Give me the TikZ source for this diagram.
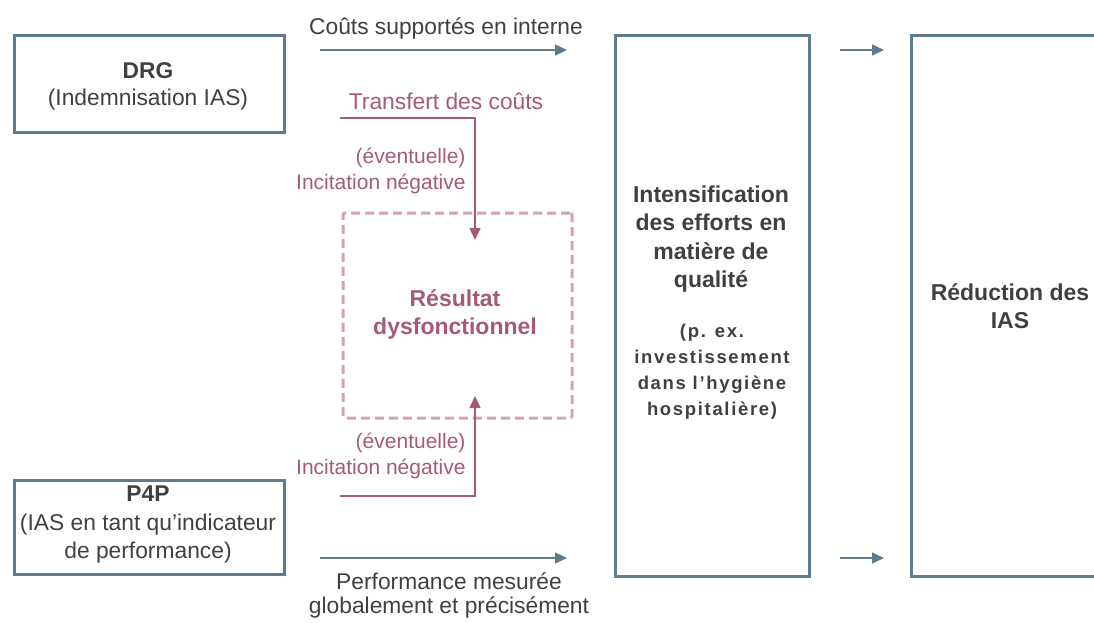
\documentclass[tikz,border=0pt]{standalone}
\usepackage{fontspec}
\setmainfont{Liberation Sans}
\usetikzlibrary{arrows.meta}
\definecolor{slate}{HTML}{5F7B8E}
\definecolor{wine}{HTML}{A65A79}
\definecolor{rose}{HTML}{D3A3B4}
\definecolor{ink}{HTML}{404040}
\tikzset{
  box/.style={draw=slate, line width=3pt, anchor=north west, inner sep=0pt},
  big/.style={font=\fontsize{22.8}{27}\selectfont, text=ink, align=center},
  heavy/.style={font=\bfseries\fontsize{23}{28.5}\selectfont, text=ink, align=center},
  small/.style={font=\bfseries\fontsize{18.5}{26}\selectfont\addfontfeature{LetterSpace=9}, text=ink, align=center},
  flow/.style={draw=slate, line width=1.5pt, -{Triangle[length=12pt,width=11pt]}},
  neg/.style={draw=wine, line width=1.5pt, -{Triangle[length=12pt,width=11pt]}},
  negtext/.style={font=\fontsize{21}{26}\selectfont, text=wine, align=right},
}
\begin{document}
\begin{tikzpicture}[x=1pt,y=-1pt]
\useasboundingbox (0,0) rectangle (1094,622);
\clip (0,0) rectangle (1094,622);

% financing instruments
\node[box, minimum width=270pt, minimum height=97pt] (drg) at (13,34) {};
\node[big] at (148,86) {\textbf{DRG}\\(Indemnisation IAS)};
\node[box, minimum width=270pt, minimum height=94pt] (p4p) at (13,479) {};
\node[big, font=\fontsize{22.8}{28.5}\selectfont] at (148,525) {\textbf{P4P}\\(IAS en tant qu’indicateur\\de performance)};

% quality efforts and outcome
\node[box, minimum width=194pt, minimum height=541pt] (eff) at (614,34) {};
\node[heavy] at (711,239) {Intensification\\des efforts en\\matière de\\qualité};
\node[small] at (712,372) {(p. ex.\\investissement\\dans l’hygiène\\hospitalière)};
\node[box, minimum width=250pt, minimum height=541pt] (red) at (910,34) {};
\node[heavy, font=\bfseries\fontsize{23}{28}\selectfont] at (1010,306) {Réduction des\\IAS};

% dysfunctional outcome
\node[draw=rose, line width=3pt, dash pattern=on 9pt off 5pt, rounded corners=2pt,
      minimum width=229pt, minimum height=205pt, anchor=north west] (dys) at (341.5,211.5) {};
\node[heavy, text=wine, font=\bfseries\fontsize{23}{28}\selectfont] at (455,314) {Résultat\\dysfonctionnel};

% main flows
\coordinate (a1) at (320,50);
\coordinate (a2) at (567,50);
\draw[flow] (a1) -- (a2);
\node[big] at (446,28) {Coûts supportés en interne};
\coordinate (b1) at (320,558);
\coordinate (b2) at (567,558);
\draw[flow] (b1) -- (b2);
\node[big, font=\fontsize{22.8}{24}\selectfont] at (449,595) {Performance mesurée\\globalement et précisément};
\coordinate (c1) at (840,50);
\coordinate (c2) at (884,50);
\draw[flow] (c1) -- (c2);
\coordinate (d1) at (840,558);
\coordinate (d2) at (884,558);
\draw[flow] (d1) -- (d2);

% negative incentives
\coordinate (e1) at (340,118);
\coordinate (e2) at (475,240);
\draw[neg] (e1) -| (e2);
\node[negtext, font=\fontsize{22.8}{26}\selectfont] at (446,101) {Transfert des coûts};
\node[negtext, anchor=east] at (469,171) {(éventuelle)\\Incitation négative};
\coordinate (f1) at (340,496);
\coordinate (f2) at (475,396);
\draw[neg] (f1) -| (f2);
\node[negtext, anchor=east] at (469,456) {(éventuelle)\\Incitation négative};
\end{tikzpicture}
\end{document}
